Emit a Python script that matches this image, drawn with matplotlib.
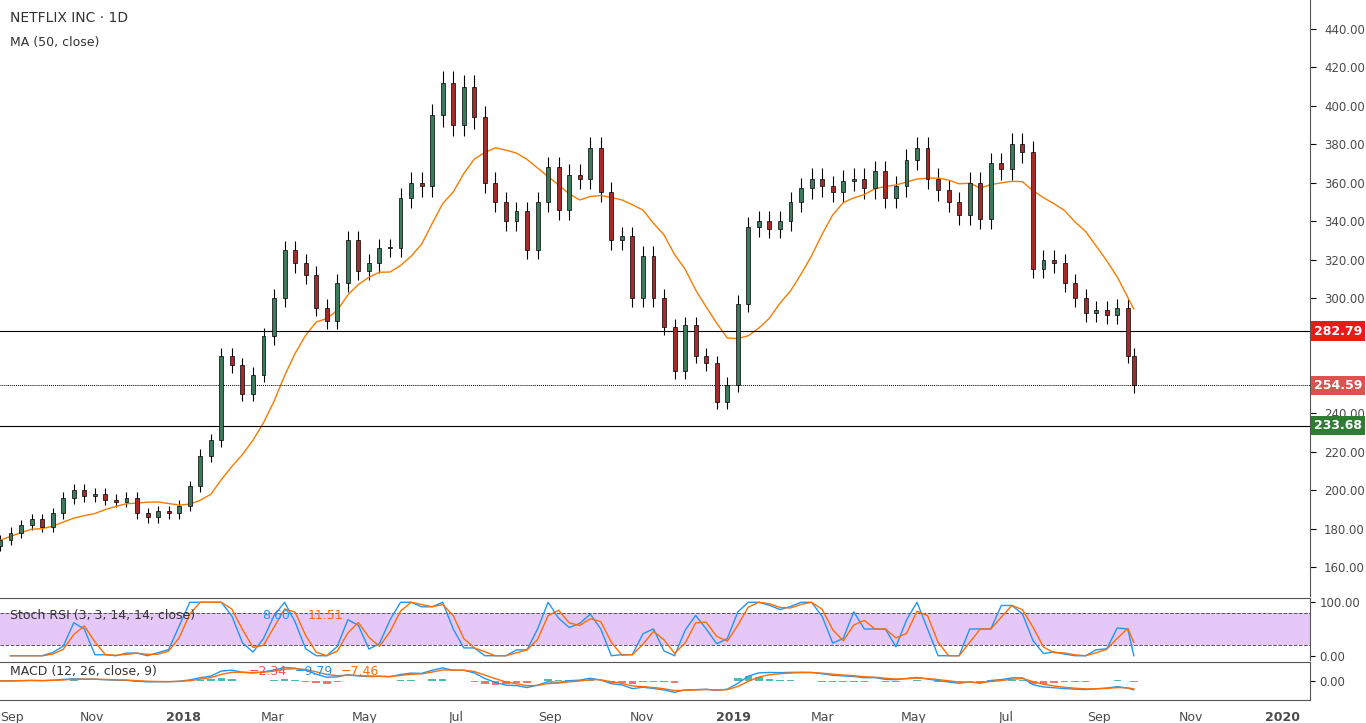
import numpy as np
import pandas as pd
import matplotlib
matplotlib.use("Agg")
import matplotlib.pyplot as plt
import matplotlib.dates as mdates

# weekly closes
dates = pd.date_range("2017-09-01", "2019-09-20", freq="W-FRI").tolist() + [pd.Timestamp("2019-09-24")]
closes = [174, 178, 182, 185, 181, 188, 196, 200, 197, 198, 195, 194, 196, 188, 186, 189, 188, 192,
          202, 218, 226, 270, 265, 250, 260, 280, 300, 325, 318, 312, 295, 288, 308, 330, 314, 318,
          326, 326, 352, 360, 358, 395, 412, 390, 410, 394, 360, 350, 340, 345, 325, 350, 368, 346,
          364, 362, 378, 355, 330, 332, 300, 322, 300, 285, 262, 286, 270, 266, 246, 255,
          297, 337, 340, 336, 340, 350, 357, 362, 358, 355, 361, 362, 357, 366, 352, 358, 372, 378,
          362, 356, 350, 343, 360, 341, 370, 367, 380, 376, 315, 320, 318, 308, 300, 292, 294, 291,
          295, 270, 254.59]
first_open = 171
levels = [282.79, 233.68]
last_price = 254.59

df = pd.DataFrame({"close": closes}, index=pd.DatetimeIndex(dates))
df["open"] = [first_open] + closes[:-1]
df["high"] = df[["open", "close"]].max(axis=1) * 1.015
df["low"] = df[["open", "close"]].min(axis=1) * 0.985
df["ma"] = df["close"].rolling(10, min_periods=1).mean()

# stoch rsi
d = df["close"].diff()
up = d.clip(lower=0).ewm(alpha=1 / 14, adjust=False).mean()
dn = (-d.clip(upper=0)).ewm(alpha=1 / 14, adjust=False).mean()
rsi = 100 - 100 / (1 + up / dn.replace(0, 1e-9))
lo, hi = rsi.rolling(4, min_periods=1).min(), rsi.rolling(4, min_periods=1).max()
stoch = 100 * (rsi - lo) / (hi - lo).replace(0, 1)
k = stoch.rolling(2, min_periods=1).mean()
dline = k.rolling(2, min_periods=1).mean()

# macd
macd = df["close"].ewm(span=4).mean() - df["close"].ewm(span=8).mean()
sig = macd.ewm(span=3).mean()
hist = macd - sig

W, H = 1366, 723
fig = plt.figure(figsize=(W / 100, H / 100), dpi=100)
plt.rcParams["font.family"] = ["DejaVu Sans"]

def ax_px(top, bottom):
    return fig.add_axes([0, 1 - bottom / H, 1310 / W, (bottom - top) / H])

x0 = mdates.date2num(pd.Timestamp("2017-09-01"))
x1 = x0 + 870
tick_color = "#4a4a4a"

ax = ax_px(0, 596)
xs = mdates.date2num(df.index.to_pydatetime())
for xi, (o, c, h, l) in zip(xs, df[["open", "close", "high", "low"]].values):
    col = "#3d7a5c" if c >= o else "#a52a2a"
    ax.vlines(xi, l, h, color="black", lw=0.8, zorder=2)
    ax.bar(xi, abs(c - o) or 0.5, bottom=min(o, c), width=2.6, color=col,
           edgecolor="black", lw=0.5, zorder=3)
ax.plot(xs, df["ma"], color="#f57c00", lw=1)
for lv in levels:
    ax.axhline(lv, color="black", lw=0.8)
ax.axhline(last_price, color="black", lw=0.7, ls=(0, (1, 1)))
ax.set_xlim(x0, x1)
ax.set_ylim(145, 455)
ax.yaxis.tick_right()
yt = [v for v in range(160, 441, 20) if v not in (260, 280)]
ax.set_yticks(yt)
ax.set_yticklabels([f"{v:.2f}" for v in yt], fontsize=8.5, color=tick_color)
ax.tick_params(axis="y", length=4, pad=6)
ax.set_xticks([])
for s in ["left", "top", "bottom"]:
    ax.spines[s].set_visible(False)
ax.spines["right"].set_color("#555555")
ax.text(0.008, 0.982, "NETFLIX INC · 1D", transform=ax.transAxes, fontsize=10, va="top", color="#333333")
ax.text(0.008, 0.94, "MA (50, close)", transform=ax.transAxes, fontsize=9, va="top", color="#333333")
for lv, c in [(282.79, "#e81b1b"), (last_price, "#d9534f"), (233.68, "#2e7d32")]:
    ax.text(1.003, lv, f"{lv:.2f}", transform=ax.get_yaxis_transform(), fontsize=9, color="white",
            va="center", ha="left", fontweight="bold",
            bbox=dict(boxstyle="square,pad=0.25", fc=c, ec="none"))

a2 = ax_px(598, 660)
a2.axhspan(20, 80, color="#e6c8f8", lw=0)
a2.axhline(80, color="#555", lw=0.7, ls="--")
a2.axhline(20, color="#555", lw=0.7, ls="--")
a2.plot(xs, k, color="#2196f3", lw=1)
a2.plot(xs, dline, color="#ff6d00", lw=1)
a2.set_xlim(x0, x1)
a2.set_ylim(-8, 108)
a2.yaxis.tick_right()
a2.set_yticks([0, 100])
a2.set_yticklabels(["0.00", "100.00"], fontsize=8.5, color=tick_color)
a2.set_xticks([])
for s in ["left", "bottom"]:
    a2.spines[s].set_visible(False)
a2.spines["top"].set_color("#555")
a2.spines["right"].set_color("#555")
a2.text(0.008, 0.82, "Stoch RSI (3, 3, 14, 14, close)", transform=a2.transAxes, fontsize=9, va="top", color="#333")
a2.text(0.2, 0.82, "8.60", transform=a2.transAxes, fontsize=9, va="top", color="#2196f3")
a2.text(0.235, 0.82, "11.51", transform=a2.transAxes, fontsize=9, va="top", color="#ff6d00")

a3 = ax_px(662, 700)
hc = ["#26a69a" if v >= 0 else "#ef5350" for v in hist]
a3.bar(xs, hist, width=5, color=hc, alpha=0.8)
a3.plot(xs, macd, color="#2196f3", lw=1)
a3.plot(xs, sig, color="#ff6d00", lw=1)
a3.set_xlim(x0, x1)
m = max(abs(macd).max(), 1)
a3.set_ylim(-m * 1.4, m * 1.4)
a3.yaxis.tick_right()
a3.set_yticks([0])
a3.set_yticklabels(["0.00"], fontsize=8.5, color=tick_color)
a3.spines["left"].set_visible(False)
for s in ["top", "right", "bottom"]:
    a3.spines[s].set_color("#555")
a3.text(0.008, 0.93, "MACD (12, 26, close, 9)", transform=a3.transAxes, fontsize=9, va="top", color="#333")
a3.text(0.19, 0.93, "−2.34", transform=a3.transAxes, fontsize=9, va="top", color="#ef5350")
a3.text(0.225, 0.93, "−9.79", transform=a3.transAxes, fontsize=9, va="top", color="#2196f3")
a3.text(0.26, 0.93, "−7.46", transform=a3.transAxes, fontsize=9, va="top", color="#ff6d00")

tick_dates = ["2017-09-01", "2017-11-01", "2018-01-01", "2018-03-01", "2018-05-01", "2018-07-01",
              "2018-09-01", "2018-11-01", "2019-01-01", "2019-03-01", "2019-05-01", "2019-07-01",
              "2019-09-01", "2019-11-01", "2020-01-01"]
tick_labels = ["Sep", "Nov", "2018", "Mar", "May", "Jul", "Sep", "Nov", "2019", "Mar", "May", "Jul",
               "Sep", "Nov", "2020"]
a3.set_xticks([mdates.date2num(pd.Timestamp(t)) for t in tick_dates])
a3.set_xticklabels(tick_labels, fontsize=9, color=tick_color)
for lab in a3.get_xticklabels():
    if lab.get_text() in ("2018", "2019", "2020"):
        lab.set_fontweight("bold")
a3.get_xticklabels()[0].set_horizontalalignment("left")
a3.tick_params(axis="x", length=0, pad=8)

fig.savefig("out.png", dpi=100)
